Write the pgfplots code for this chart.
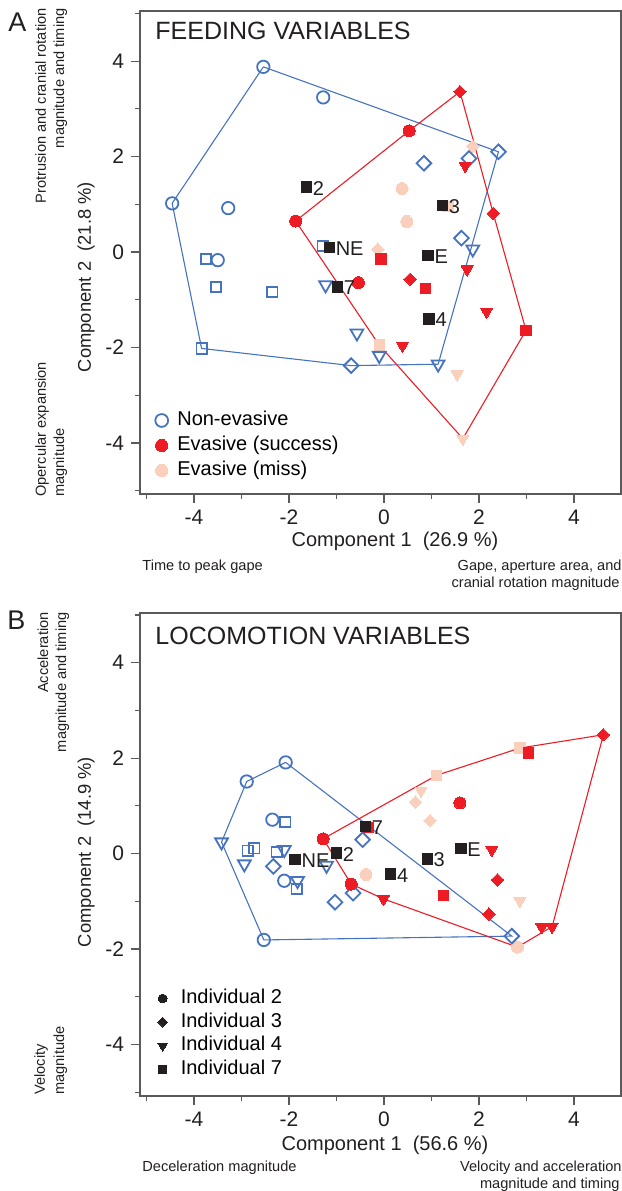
\documentclass[border=0pt]{standalone}
\usepackage{fontspec}
\setmainfont{Liberation Sans}
\usepackage{pgfplots}
\pgfplotsset{compat=1.18}

\definecolor{nonev}{RGB}{70,115,192}
\definecolor{evred}{RGB}{237,28,36}
\definecolor{evpink}{RGB}{250,208,188}
\definecolor{cent}{RGB}{35,31,32}
\definecolor{axgray}{RGB}{90,90,90}

\newcommand{\sidefont}{\fontsize{7.3}{9}\selectfont}
\newcommand{\tickfont}{\fontsize{10.5}{12}\selectfont}

\pgfplotsset{
  pca/.style={
    scale only axis, width=240.5pt, height=241.5pt,
    xmin=-5.137, xmax=4.99,
    axis line style={axgray, line width=0.6pt},
    xtick={-4,-2,...,4}, ytick={-4,-2,...,4},
    minor xtick={-5,-3,...,3}, minor ytick={-5,-3,...,5},
    tick align=outside, xtick pos=bottom, ytick pos=left,
    major tick length=4.5pt, minor tick length=2.5pt,
    every tick/.style={axgray, line width=0.6pt},
    tick label style={font=\tickfont, text=cent},
    /pgf/number format/assume math mode=true,
    legend cell align=left,
  },
  onemark/.style={legend image code/.code={\draw[##1] plot coordinates {(0pt,0pt)};}},
  bo/.style={only marks, forget plot, mark=o, mark size=3.1pt, draw=nonev, line width=0.9pt},
  bd/.style={only marks, forget plot, mark=square, mark size=2.6pt, draw=nonev, line width=0.9pt, mark options={rotate=45}},
  bt/.style={only marks, forget plot, mark=triangle, mark size=3.7pt, draw=nonev, line width=0.9pt, mark options={rotate=180}},
  bs/.style={only marks, forget plot, mark=square, mark size=2.6pt, draw=nonev, line width=0.9pt},
  fo/.style={only marks, forget plot, mark=*, mark size=3pt, draw=#1, fill=#1, line width=0pt},
  fd/.style={only marks, forget plot, mark=square*, mark size=2.2pt, draw=#1, fill=#1, line width=0pt, mark options={rotate=45}},
  ft/.style={only marks, forget plot, mark=triangle*, mark size=3.4pt, draw=#1, fill=#1, line width=0pt, mark options={rotate=180}},
  fs/.style={only marks, forget plot, mark=square*, mark size=2.6pt, draw=#1, fill=#1, line width=0pt},
  hull/.style={forget plot, mark=none, line width=0.55pt, #1},
  centroid/.style={only marks, forget plot, mark=square*, mark size=2.6pt,
    draw=cent, fill=cent, line width=0pt,
    point meta=explicit symbolic, nodes near coords,
    every node near coord/.append style={anchor=west, xshift=2.4pt, yshift=-0.6pt, inner sep=0.8pt,
      font=\fontsize{10}{12}\selectfont, text=cent}},
}

\begin{document}
\begin{tikzpicture}
\useasboundingbox (0,0) rectangle (311pt,-595.5pt);

%% ---------- A: feeding ----------
\begin{axis}[pca, at={(70pt,-5.5pt)}, anchor=north west,
  ymin=-5.07, ymax=5.05,
  legend style={at={(0.031,0.022)}, anchor=south west, draw=none, fill=none,
    font=\fontsize{10}{12}\selectfont, row sep=0pt, inner sep=0pt,
    nodes={inner sep=1pt, text height=8pt, text depth=2.5pt},
    /tikz/every odd column/.append style={column sep=3.6pt}},
]
  \addplot[hull=nonev] coordinates {(-2.54,3.88) (2.41,2.10) (1.14,-2.35) (-0.69,-2.38) (-3.84,-2.02) (-4.46,1.02) (-2.54,3.88)};
  % missed strikes
  \addplot[fo=evpink] coordinates {(0.38,1.33) (0.48,0.64)};
  \addplot[fd=evpink] coordinates {(1.87,2.22) (-0.13,0.06)};
  \addplot[ft=evpink] coordinates {(1.54,-2.56) (1.66,-3.91)};
  \addplot[fs=evpink] coordinates {(-0.10,-1.95) (1.35,0.95)};
  \addplot[hull=evred] coordinates {(1.60,3.36) (2.30,0.81) (2.99,-1.64) (1.66,-3.91) (-0.10,-1.95) (-1.86,0.65) (0.53,2.54) (1.60,3.36)};
  % non-evasive
  \addplot[bo] coordinates {(-2.54,3.88) (-1.28,3.24) (-4.46,1.02) (-3.28,0.92) (-3.50,-0.17)};
  \addplot[bd] coordinates {(2.41,2.10) (0.84,1.86) (1.79,1.96) (1.63,0.29) (-0.69,-2.38)};
  \addplot[bt] coordinates {(1.87,0.06) (-1.23,-0.69) (-0.57,-1.70) (-0.10,-2.17) (1.14,-2.35)};
  \addplot[bs] coordinates {(-1.29,0.13) (-3.75,-0.15) (-3.54,-0.73) (-2.35,-0.84) (-3.84,-2.02)};
  % evasive success
  \addplot[fo=evred] coordinates {(0.53,2.54) (-1.86,0.65) (-0.54,-0.64)};
  \addplot[fd=evred] coordinates {(1.60,3.36) (2.30,0.81) (0.55,-0.57)};
  \addplot[ft=evred] coordinates {(1.71,1.81) (1.75,-0.36) (2.16,-1.25) (0.39,-1.96)};
  \addplot[fs=evred] coordinates {(-0.06,-0.15) (0.88,-0.76) (2.99,-1.64)};
  % centroids
  \addplot[centroid] coordinates {(-1.63,1.36)[2] (1.23,0.97)[3] (-1.15,0.09)[NE] (0.93,-0.07)[E] (-0.98,-0.73)[7] (0.95,-1.40)[4]};
  \addlegendimage{onemark, only marks, mark=o, mark size=3.2pt, draw=nonev, line width=0.9pt}
  \addlegendentry{Non-evasive}
  \addlegendimage{onemark, only marks, mark=*, mark size=3.1pt, draw=evred, fill=evred, line width=0pt}
  \addlegendentry{Evasive (success)}
  \addlegendimage{onemark, only marks, mark=*, mark size=3.1pt, draw=evpink, fill=evpink, line width=0pt}
  \addlegendentry{Evasive (miss)}
\end{axis}

%% ---------- B: locomotion ----------
\begin{axis}[pca, at={(70pt,-306.5pt)}, anchor=north west,
  ymin=-5.08, ymax=5.04,
  legend style={at={(0.036,0.03)}, anchor=south west, draw=none, fill=none,
    font=\fontsize{10}{12}\selectfont, row sep=0pt, inner sep=0pt,
    nodes={inner sep=1pt, text height=7.4pt, text depth=2.4pt},
    /tikz/every odd column/.append style={column sep=5.6pt}},
]
  \addplot[hull=nonev] coordinates {(-2.07,1.91) (2.69,-1.73) (-2.53,-1.81) (-3.42,0.24) (-2.89,1.51) (-2.07,1.91)};
  \addplot[fo=evpink] coordinates {(-0.38,-0.44) (2.81,-1.96)};
  \addplot[fd=evpink] coordinates {(0.66,1.08) (0.97,0.69)};
  \addplot[ft=evpink] coordinates {(0.78,1.32) (2.86,-0.99)};
  \addplot[fs=evpink] coordinates {(2.86,2.21) (1.11,1.64)};
  \addplot[hull=evred] coordinates {(-1.28,0.31) (1.11,1.64) (2.86,2.21) (4.62,2.49) (3.54,-1.53) (2.81,-1.96) (-0.01,-0.95) (-0.69,-0.64) (-1.28,0.31)};
  \addplot[bo] coordinates {(-2.07,1.91) (-2.89,1.51) (-2.35,0.71) (-2.10,-0.57) (-2.53,-1.81)};
  \addplot[bd] coordinates {(-0.45,0.29) (-2.33,-0.27) (-0.65,-0.83) (-1.03,-1.02) (2.69,-1.73)};
  \addplot[bt] coordinates {(-3.42,0.24) (-2.94,-0.22) (-2.10,0.08) (-1.21,-0.25) (-1.82,-0.57)};
  \addplot[bs] coordinates {(-2.08,0.66) (-2.87,0.06) (-2.73,0.11) (-2.26,0.03) (-1.84,-0.74)};
  \addplot[fo=evred] coordinates {(-1.28,0.31) (-0.69,-0.64) (1.60,1.06)};
  \addplot[fd=evred] coordinates {(4.62,2.49) (2.39,-0.55) (2.21,-1.27)};
  \addplot[ft=evred] coordinates {(2.27,0.08) (-0.01,-0.95) (3.32,-1.54) (3.54,-1.53)};
  \addplot[fs=evred] coordinates {(3.04,2.11) (1.25,-0.88) (-0.33,0.55)};
  \addplot[centroid] coordinates {(-0.39,0.57)[7] (-1.87,-0.13)[NE] (-1.00,0.01)[2] (0.14,-0.43)[4] (0.91,-0.11)[3] (1.62,0.11)[E]};
  \addlegendimage{onemark, only marks, mark=*, mark size=2.2pt, draw=cent, fill=cent, line width=0pt}
  \addlegendentry{Individual 2}
  \addlegendimage{onemark, only marks, mark=square*, mark size=1.75pt, draw=cent, fill=cent, line width=0pt, mark options={rotate=45}}
  \addlegendentry{Individual 3}
  \addlegendimage{onemark, only marks, mark=triangle*, mark size=2.7pt, draw=cent, fill=cent, line width=0pt, mark options={rotate=180}}
  \addlegendentry{Individual 4}
  \addlegendimage{onemark, only marks, mark=square*, mark size=1.9pt, draw=cent, fill=cent, line width=0pt}
  \addlegendentry{Individual 7}
\end{axis}

%% ---------- text around panel A ----------
\node[font=\fontsize{13.5}{16}\selectfont, text=cent] at (8.75pt,-11.25pt) {A};
\node[anchor=west, font=\fontsize{12.5}{14}\selectfont, text=cent] at (74.2pt,-15.5pt) {FEEDING VARIABLES};
\node[rotate=90, anchor=base east, font=\sidefont, text=cent, inner sep=0pt] at (23pt,-4pt) {Protrusion and cranial rotation};
\node[rotate=90, anchor=base east, font=\sidefont, text=cent, inner sep=0pt] at (32pt,-4pt) {magnitude and timing};
\node[rotate=90, anchor=base west, font=\sidefont, text=cent, inner sep=0pt] at (23pt,-248.5pt) {Opercular expansion};
\node[rotate=90, anchor=base west, font=\sidefont, text=cent, inner sep=0pt] at (32pt,-248.5pt) {magnitude};
\node[rotate=90, font=\fontsize{9.2}{11}\selectfont, text=cent] at (43pt,-138.5pt) {Component 2\ \ (21.8 \%)};
\node[font=\fontsize{10}{12}\selectfont, text=cent] at (197.5pt,-270.5pt) {Component 1\ \ (26.9 \%)};
\node[anchor=base west, font=\sidefont, text=cent, inner sep=0pt] at (71pt,-285.3pt) {Time to peak gape};
\node[anchor=base east, font=\sidefont, text=cent, inner sep=0pt] at (311pt,-285.3pt) {Gape, aperture area, and};
\node[anchor=base east, font=\sidefont, text=cent, inner sep=0pt] at (310pt,-293.8pt) {cranial rotation magnitude};

%% ---------- text around panel B ----------
\node[font=\fontsize{13.5}{16}\selectfont, text=cent] at (8.25pt,-310pt) {B};
\node[anchor=west, font=\fontsize{12.5}{14}\selectfont, text=cent] at (74.2pt,-318pt) {LOCOMOTION VARIABLES};
\node[rotate=90, anchor=base east, font=\sidefont, text=cent, inner sep=0pt] at (24pt,-306pt) {Acceleration};
\node[rotate=90, anchor=base east, font=\sidefont, text=cent, inner sep=0pt] at (33pt,-306pt) {magnitude and timing};
\node[rotate=90, anchor=base west, font=\sidefont, text=cent, inner sep=0pt] at (22.5pt,-547.5pt) {Velocity};
\node[rotate=90, anchor=base west, font=\sidefont, text=cent, inner sep=0pt] at (32pt,-547.5pt) {magnitude};
\node[rotate=90, font=\fontsize{9.2}{11}\selectfont, text=cent] at (43pt,-426pt) {Component 2\ \ (14.9 \%)};
\node[font=\fontsize{10}{12}\selectfont, text=cent] at (192.5pt,-572.75pt) {Component 1\ \ (56.6 \%)};
\node[anchor=base west, font=\sidefont, text=cent, inner sep=0pt] at (71pt,-585.8pt) {Deceleration magnitude};
\node[anchor=base east, font=\sidefont, text=cent, inner sep=0pt] at (311pt,-585.8pt) {Velocity and acceleration};
\node[anchor=base east, font=\sidefont, text=cent, inner sep=0pt] at (310pt,-594.2pt) {magnitude and timing};
\end{tikzpicture}
\end{document}
